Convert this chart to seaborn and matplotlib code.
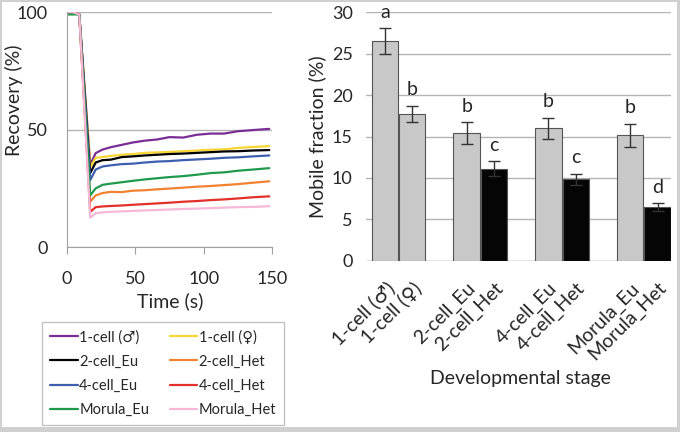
import matplotlib.pyplot as plt
import matplotlib.patches as mpatches
import pandas as pd
import seaborn as sns

sns.set_style("white")
plt.rcParams['font.family'] = ['Lato', 'DejaVu Sans']

# FRAP recovery curves
time_s = [0, 4, 9, 17, 21, 26, 32, 40, 48, 57, 66, 75, 85, 95, 105, 115, 125, 136, 148]
rec_1cell_m = [100, 100, 99, 35, 40, 41.5, 42.5, 43.5, 44.5, 45.3, 45.8, 46.8, 46.6, 47.8, 48.3, 48.3, 49.3, 49.8, 50.3]
rec_1cell_f = [100, 100, 99, 34, 38, 38.3, 38.8, 39.3, 39.6, 40.1, 40.3, 40.5, 40.8, 41.1, 41.4, 41.6, 42.2, 42.6, 43]
rec_2cell_eu = [100, 100, 99, 31.5, 36, 37, 37.2, 38.3, 38.6, 39, 39.3, 39.6, 39.8, 40.1, 40.4, 40.7, 40.8, 41.1, 41.3]
rec_2cell_het = [100, 100, 99, 19.3, 22, 23, 23.5, 23.4, 24, 24.2, 24.6, 24.9, 25.3, 25.7, 26, 26.4, 26.8, 27.4, 28]
rec_4cell_eu = [100, 100, 99, 28.5, 33, 34.3, 34.8, 35.3, 35.5, 36, 36.4, 36.6, 37, 37.3, 37.6, 38, 38.2, 38.6, 39]
rec_4cell_het = [100, 100, 99, 15, 17, 17.3, 17.5, 17.7, 18, 18.3, 18.6, 18.9, 19.3, 19.6, 20, 20.3, 20.7, 21.2, 21.6]
rec_morula_eu = [99, 99, 99, 22, 25, 26.5, 27, 27.6, 28.2, 28.8, 29.3, 29.8, 30.2, 30.8, 31.5, 31.8, 32.5, 33, 33.6]
rec_morula_het = [100, 100, 99, 12.5, 14.4, 14.8, 15, 15.2, 15.4, 15.6, 15.8, 16, 16.2, 16.4, 16.6, 16.8, 17, 17.1, 17.4]

curve_names = ['1-cell (♂)', '1-cell (♀)', '2-cell_Eu', '2-cell_Het',
               '4-cell_Eu', '4-cell_Het', 'Morula_Eu', 'Morula_Het']
curve_values = [rec_1cell_m, rec_1cell_f, rec_2cell_eu, rec_2cell_het,
                rec_4cell_eu, rec_4cell_het, rec_morula_eu, rec_morula_het]
curve_colors = ['#7a2d94', '#f7d631', '#000000', '#f08232',
                '#3e5fb0', '#e2302a', '#1f9a4c', '#f6b8d6']

# mobile fraction bars
stages = ['1-cell (♂)', '1-cell (♀)', '2-cell_Eu', '2-cell_Het',
          '4-cell_Eu', '4-cell_Het', 'Morula_Eu', 'Morula_Het']
mobile_frac = [26.5, 17.75, 15.45, 11.1, 16.0, 9.85, 15.15, 6.5]
mobile_err = [1.55, 0.95, 1.3, 0.9, 1.27, 0.65, 1.4, 0.45]
sig_letters = ['a', 'b', 'b', 'c', 'b', 'c', 'b', 'd']
bar_order = ['1-cell (♂)', '1-cell (♀)', ' ', '2-cell_Eu', '2-cell_Het', '  ',
             '4-cell_Eu', '4-cell_Het', '   ', 'Morula_Eu', 'Morula_Het']

fig = plt.figure(figsize=(6.8, 4.32), dpi=100)
ax1 = fig.add_axes([0.0985, 0.428, 0.3015, 0.544])
ax2 = fig.add_axes([0.538, 0.396, 0.449, 0.576])

# left: recovery curves
df_rec = pd.DataFrame({'time': time_s * len(curve_names),
                       'recovery': sum(curve_values, []),
                       'group': [n for n in curve_names for _ in time_s]})
sns.lineplot(data=df_rec, x='time', y='recovery', hue='group', hue_order=curve_names,
             palette=dict(zip(curve_names, curve_colors)), linewidth=1.6, ax=ax1, legend=False)
ax1.set_xlim(0, 150)
ax1.set_ylim(0, 100)
ax1.set_xticks([0, 50, 100, 150])
ax1.set_yticks([0, 50, 100])
ax1.yaxis.grid(True, color='#b4b4b4', linewidth=1)
ax1.set_axisbelow(True)
for s in ['top', 'right']:
    ax1.spines[s].set_visible(False)
for s in ['left', 'bottom']:
    ax1.spines[s].set_color('#a0a0a0')
ax1.tick_params(axis='x', length=5, color='#a0a0a0', bottom=True, labelsize=13, pad=12)
ax1.tick_params(axis='y', length=0, labelsize=13, pad=14)
ax1.set_xlabel('Time (s)', fontsize=14)
ax1.set_ylabel('Recovery (%)', fontsize=14)
ax1.xaxis.set_label_coords(0.502, -0.191)
ax1.yaxis.set_label_coords(-0.215, 0.626)

# legend filled row by row, like the original
leg_idx = [0, 2, 4, 6, 1, 3, 5, 7]
handles = [plt.Line2D([], [], color=curve_colors[i], linewidth=1.6) for i in leg_idx]
fig.legend(handles, [curve_names[i] for i in leg_idx], loc='upper left',
           bbox_to_anchor=(42 / 680, 1 - 322 / 432), borderaxespad=0,
           ncol=2, fontsize=10.5, frameon=True, fancybox=False, edgecolor='#b4b4b4',
           handlelength=1.9, handletextpad=0.1, columnspacing=1.4, labelspacing=0.7,
           borderpad=0.55)

# right: mobile fraction bars
df_bar = pd.DataFrame({'stage': stages, 'mf': mobile_frac})
bar_colors = {s: ('#c8c8c8' if s.startswith('1-cell') or s.endswith('Eu') else '#050505') for s in stages}
sns.barplot(data=df_bar, x='stage', y='mf', order=bar_order, hue='stage', palette=bar_colors,
            legend=False, width=0.97, edgecolor='#555555', linewidth=0.8, ax=ax2)
xpos = [bar_order.index(s) for s in stages]
ax2.errorbar(xpos, mobile_frac, yerr=mobile_err, fmt='none', ecolor='#333333',
             elinewidth=1, capsize=4, capthick=1)
for x, v, e, t in zip(xpos, mobile_frac, mobile_err, sig_letters):
    ax2.text(x, v + e + 0.9, t, ha='center', va='bottom', fontsize=14, clip_on=False)
ax2.set_xlim(-0.7, 10.5)
ax2.set_ylim(0, 30)
ax2.set_yticks(range(0, 31, 5))
ax2.yaxis.grid(True, color='#b4b4b4', linewidth=1)
ax2.set_axisbelow(True)
sns.despine(ax=ax2, left=True, bottom=True)
ax2.axhline(0, color='#b4b4b4', linewidth=1, zorder=0)
ax2.tick_params(axis='y', length=0, labelsize=13, pad=9.5)
ax2.tick_params(axis='x', length=0, labelsize=14, pad=13)
ax2.set_xticks(range(len(bar_order)))
ax2.set_xticklabels(bar_order, rotation=45, ha='right', rotation_mode='anchor')
ax2.set_xlabel('Developmental stage', fontsize=14)
ax2.set_ylabel('Mobile fraction (%)', fontsize=14)
ax2.xaxis.set_label_coords(0.505, -0.438)
ax2.yaxis.set_label_coords(-0.131, 0.498)

# grey frame around the picture (thicker on right and bottom)
frame_col = '#d0d0d0'
for r in [(0, 0, 1.5 / 680, 1), (0, 1 - 1.5 / 432, 1, 1.5 / 432),
          (1 - 3.5 / 680, 0, 3.5 / 680, 1), (0, 0, 1, 5.5 / 432)]:
    fig.patches.append(mpatches.Rectangle(r[:2], r[2], r[3], transform=fig.transFigure,
                                          facecolor=frame_col, edgecolor='none'))

fig.savefig('out.png', dpi=100)
